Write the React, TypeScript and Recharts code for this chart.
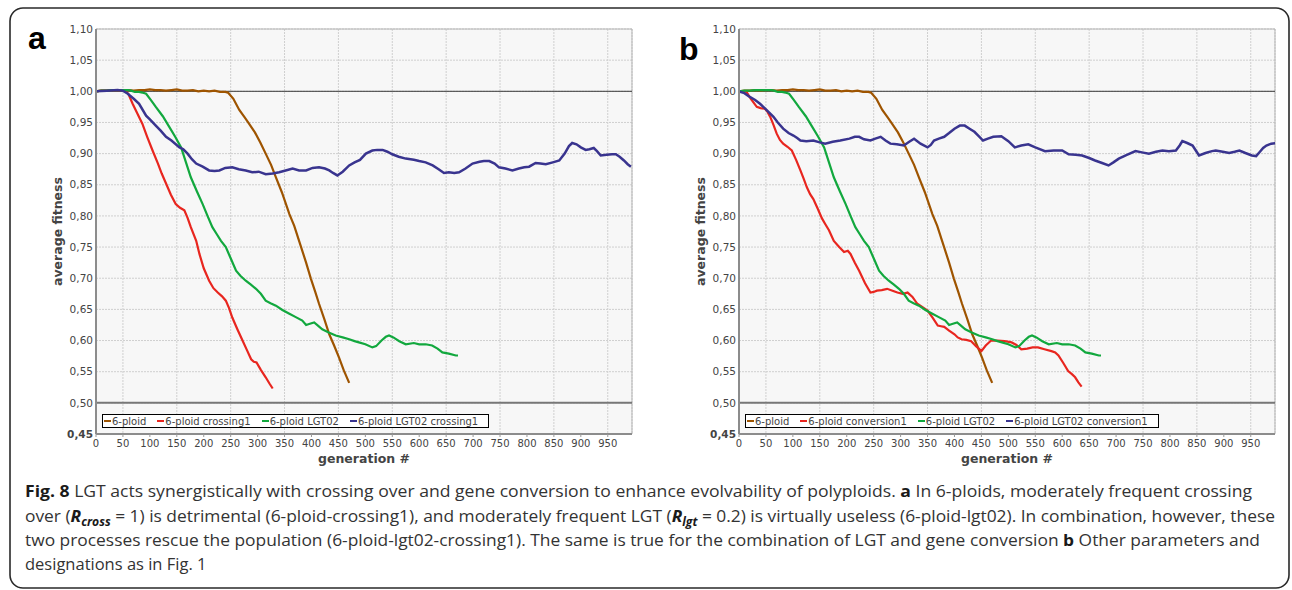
import React from 'react'
import {
	CartesianGrid,
	Legend,
	Line,
	LineChart,
	ReferenceArea,
	ReferenceLine,
	XAxis,
	YAxis,
} from 'recharts'

// generation -> average fitness
const ploid: [number, number][] = [
	[0, 1.0], [10, 1.001], [20, 1.001], [30, 1.002], [40, 1.001], [50, 1.002], [60, 1.002],
	[70, 1.001], [80, 1.002], [90, 1.002], [100, 1.003], [110, 1.002], [120, 1.002], [130, 1.001],
	[140, 1.002], [150, 1.003], [160, 1.001], [170, 1.001], [180, 1.002], [190, 1.0], [200, 1.001],
	[210, 1.0], [220, 1.001], [230, 0.999], [240, 0.999], [245, 0.998], [255, 0.988], [266, 0.97],
	[276, 0.958], [284, 0.948], [295, 0.934], [305, 0.918], [315, 0.9], [325, 0.882], [334, 0.862],
	[345, 0.838], [359, 0.803], [368, 0.784], [380, 0.752], [390, 0.725], [399, 0.699], [407, 0.678],
	[414, 0.659], [424, 0.634], [433, 0.61], [442, 0.592], [451, 0.573], [460, 0.552], [470, 0.532],
]

const crossing1: [number, number][] = [
	[0, 1.0], [10, 1.001], [20, 1.001], [30, 1.002], [40, 1.002], [50, 1.001], [55, 1.0],
	[60, 0.996], [68, 0.98], [77, 0.964], [86, 0.948], [95, 0.927], [105, 0.905], [115, 0.884],
	[122, 0.868], [130, 0.852], [139, 0.834], [148, 0.819], [156, 0.813], [164, 0.809], [170, 0.797],
	[176, 0.782], [186, 0.76], [192, 0.739], [200, 0.716], [210, 0.696], [218, 0.684], [226, 0.677],
	[234, 0.671], [241, 0.664], [247, 0.652], [253, 0.637], [262, 0.619], [272, 0.6], [280, 0.585],
	[288, 0.57], [293, 0.566], [298, 0.565], [306, 0.553], [315, 0.541], [322, 0.531], [328, 0.523],
]

const lgt02: [number, number][] = [
	[0, 1.0], [10, 1.001], [20, 1.001], [30, 1.002], [40, 1.002], [50, 1.002], [60, 1.002],
	[65, 1.001], [72, 0.999], [80, 0.999], [86, 0.998], [93, 0.996], [102, 0.986], [111, 0.975],
	[124, 0.96], [136, 0.943], [147, 0.927], [158, 0.91], [167, 0.886], [176, 0.862], [187, 0.84],
	[198, 0.819], [207, 0.8], [216, 0.782], [224, 0.771], [232, 0.76], [241, 0.75], [250, 0.732],
	[260, 0.712], [268, 0.704], [278, 0.696], [287, 0.69], [297, 0.683], [306, 0.675], [315, 0.664],
	[324, 0.66], [334, 0.656], [346, 0.649], [359, 0.643], [370, 0.638], [383, 0.632], [390, 0.625],
	[397, 0.627], [405, 0.629], [412, 0.624], [420, 0.618], [432, 0.613], [445, 0.608], [458, 0.605],
	[470, 0.602], [480, 0.599], [488, 0.597], [500, 0.594], [513, 0.589], [520, 0.591], [530, 0.6],
	[538, 0.606], [544, 0.608], [552, 0.605], [563, 0.599], [575, 0.594], [590, 0.596], [600, 0.594],
	[612, 0.594], [624, 0.592], [634, 0.587], [643, 0.581], [655, 0.579], [668, 0.576], [672, 0.576],
]

const lgt02Crossing1: [number, number][] = [
	[0, 1.0], [20, 1.001], [40, 1.002], [50, 1.001], [59, 0.996], [70, 0.988], [80, 0.98],
	[93, 0.961], [100, 0.955], [111, 0.945], [120, 0.937], [130, 0.927], [140, 0.921], [155, 0.91],
	[162, 0.907], [170, 0.9], [178, 0.891], [186, 0.884], [198, 0.879], [210, 0.873], [220, 0.872],
	[229, 0.873], [240, 0.877], [253, 0.878], [265, 0.875], [278, 0.873], [290, 0.87], [302, 0.871],
	[315, 0.867], [328, 0.868], [340, 0.87], [352, 0.873], [365, 0.876], [377, 0.873], [390, 0.873],
	[402, 0.877], [414, 0.878], [425, 0.876], [433, 0.873], [440, 0.869], [448, 0.865], [458, 0.871],
	[470, 0.881], [480, 0.886], [490, 0.89], [501, 0.9], [513, 0.905], [522, 0.906], [532, 0.906],
	[541, 0.903], [550, 0.899], [562, 0.895], [575, 0.892], [590, 0.89], [600, 0.888], [612, 0.886],
	[625, 0.881], [636, 0.875], [646, 0.869], [655, 0.87], [665, 0.869], [674, 0.87], [686, 0.876],
	[699, 0.884], [712, 0.887], [720, 0.888], [730, 0.888], [740, 0.884], [748, 0.878], [760, 0.876],
	[773, 0.873], [785, 0.876], [795, 0.878], [804, 0.879], [816, 0.885], [825, 0.884], [835, 0.883],
	[848, 0.886], [860, 0.889], [870, 0.9], [878, 0.912], [884, 0.917], [892, 0.915], [900, 0.91],
	[909, 0.906], [916, 0.907], [924, 0.909], [930, 0.904], [937, 0.897], [948, 0.898], [958, 0.899],
	[965, 0.899], [972, 0.895], [980, 0.889], [987, 0.883], [993, 0.879],
]

const conversion1: [number, number][] = [
	[0, 1.0], [8, 1.0], [14, 0.999], [22, 0.988], [33, 0.975], [40, 0.973], [48, 0.972],
	[53, 0.967], [58, 0.959], [64, 0.946], [70, 0.932], [76, 0.922], [82, 0.916], [90, 0.911],
	[98, 0.905], [106, 0.89], [114, 0.873], [120, 0.86], [126, 0.846], [132, 0.835], [138, 0.827],
	[146, 0.812], [154, 0.796], [160, 0.787], [167, 0.777], [176, 0.76], [186, 0.75], [195, 0.742],
	[202, 0.744], [207, 0.739], [215, 0.725], [223, 0.712], [234, 0.692], [244, 0.677], [250, 0.678],
	[256, 0.68], [265, 0.681], [275, 0.683], [285, 0.68], [294, 0.677], [304, 0.675], [313, 0.677],
	[322, 0.67], [331, 0.659], [340, 0.654], [350, 0.648], [360, 0.636], [369, 0.624], [375, 0.623],
	[381, 0.622], [390, 0.616], [400, 0.61], [406, 0.605], [413, 0.602], [422, 0.601], [431, 0.599],
	[440, 0.591], [450, 0.583], [458, 0.592], [468, 0.6], [480, 0.6], [493, 0.599], [506, 0.597],
	[515, 0.593], [524, 0.586], [535, 0.587], [545, 0.589], [555, 0.589], [567, 0.586], [580, 0.583],
	[587, 0.581], [593, 0.576], [602, 0.564], [611, 0.551], [618, 0.546], [624, 0.541], [630, 0.533],
	[636, 0.526],
]

const lgt02Conversion1: [number, number][] = [
	[0, 1.0], [10, 0.997], [20, 0.991], [30, 0.986], [39, 0.98], [50, 0.971], [64, 0.959],
	[72, 0.95], [82, 0.94], [92, 0.933], [101, 0.929], [108, 0.925], [114, 0.921], [125, 0.92],
	[138, 0.921], [150, 0.918], [160, 0.916], [174, 0.919], [188, 0.921], [205, 0.924], [215, 0.927],
	[223, 0.927], [232, 0.923], [244, 0.921], [253, 0.924], [263, 0.927], [272, 0.921], [281, 0.916],
	[293, 0.915], [306, 0.913], [316, 0.919], [325, 0.924], [337, 0.916], [350, 0.91], [356, 0.914],
	[362, 0.921], [371, 0.924], [381, 0.927], [390, 0.933], [400, 0.94], [410, 0.945], [419, 0.945],
	[428, 0.94], [437, 0.935], [445, 0.928], [453, 0.921], [462, 0.924], [472, 0.927], [487, 0.928],
	[500, 0.92], [512, 0.91], [524, 0.913], [537, 0.915], [550, 0.91], [568, 0.904], [584, 0.905],
	[600, 0.905], [612, 0.899], [625, 0.898], [637, 0.897], [650, 0.893], [661, 0.889], [674, 0.885],
	[686, 0.881], [695, 0.886], [705, 0.892], [720, 0.898], [736, 0.904], [748, 0.902], [761, 0.9],
	[774, 0.903], [786, 0.905], [798, 0.904], [811, 0.905], [818, 0.913], [823, 0.92], [832, 0.917],
	[842, 0.913], [848, 0.905], [854, 0.897], [866, 0.901], [878, 0.904], [885, 0.905], [898, 0.903],
	[910, 0.901], [920, 0.903], [929, 0.905], [940, 0.901], [952, 0.897], [960, 0.896], [967, 0.903],
	[973, 0.909], [979, 0.913], [988, 0.916], [997, 0.917],
]

const xTicks = [0, 50, 100, 150, 200, 250, 300, 350, 400, 450, 500, 550, 600, 650, 700, 750, 800, 850, 900, 950]
const yTicks = [0.45, 0.5, 0.55, 0.6, 0.65, 0.7, 0.75, 0.8, 0.85, 0.9, 0.95, 1.0, 1.05, 1.1]

const BROWN = '#9e5400'
const RED = '#e8261f'
const GREEN = '#12a83e'
const BLUE = '#39348f'

const toRows = (s: [number, number][]) => s.map(([g, v]) => ({ g, v }))

const fmt = (v: number) => v.toFixed(2).replace('.', ',')

const YTick = (props: any) => {
	const { x, y, payload } = props
	return (
		<text
			x={x}
			y={y}
			dy="0.35em"
			textAnchor="end"
			fontSize={10.5}
			fill="#444"
			fontFamily="DejaVu Sans"
			fontWeight={payload.value === 0.45 ? 'bold' : 'normal'}
		>
			{fmt(payload.value)}
		</text>
	)
}

interface ISeries {
	name: string
	color: string
	data: [number, number][]
}

const LegendBox = (props: any) => {
	const order: string[] = props.order || []
	const items = [...(props.payload || [])].sort(
		(a: any, b: any) => order.indexOf(a.value) - order.indexOf(b.value)
	)
	return (
		<div
			style={{
				display: 'flex',
				alignItems: 'center',
				border: '1.5px solid #000',
				background: '#fff',
				height: 12,
				padding: '0 10px 0 1px',
				fontFamily: 'DejaVu Sans',
				fontSize: 10,
				color: '#444',
				whiteSpace: 'nowrap',
			}}
		>
			{items.map((it: any, i: number) => (
				<span key={i} style={{ display: 'flex', alignItems: 'center', marginLeft: i === 0 ? 0 : 11 }}>
					<span style={{ display: 'inline-block', width: 7, height: 2.5, background: it.color, marginRight: 1 }} />
					{it.value}
				</span>
			))}
		</div>
	)
}

const Panel = ({ series }: { series: ISeries[] }) => (
	<LineChart width={640} height={470} margin={{ top: 29, right: 8, left: 36, bottom: 6 }}>
		<CartesianGrid fill="#f7f7f7" stroke="#cfcfcf" strokeDasharray="2 1" />
		<XAxis
			type="number"
			dataKey="g"
			domain={[0, 995]}
			ticks={xTicks}
			allowDataOverflow
			height={30}
			tickSize={3}
			tickMargin={3}
			tickLine={{ stroke: '#999' }}
			axisLine={{ stroke: '#8c8c8c', strokeWidth: 2 }}
			tick={{ fontSize: 10, fill: '#444', fontFamily: 'DejaVu Sans' }}
			label={{
				value: 'generation #',
				position: 'insideBottom',
				offset: 1.5,
				style: { fontWeight: 'bold', fontSize: 12.5, fill: '#444', fontFamily: 'DejaVu Sans' },
			}}
		/>
		<YAxis
			type="number"
			domain={[0.45, 1.1]}
			ticks={yTicks}
			allowDataOverflow
			width={60}
			tickSize={0}
			tickMargin={3}
			tickLine={false}
			axisLine={{ stroke: '#8c8c8c', strokeWidth: 2 }}
			tick={<YTick />}
			label={{
				value: 'average fitness',
				angle: -90,
				position: 'insideLeft',
				offset: 22,
				style: { textAnchor: 'middle', fontWeight: 'bold', fontSize: 12.5, fill: '#444', fontFamily: 'DejaVu Sans' },
			}}
		/>
		<ReferenceArea x1={0} x2={995} y1={0.45} y2={1.1} fill="none" stroke="#b5b5b5" strokeWidth={1} />
		<ReferenceLine y={1.0} stroke="#3a3a3a" strokeWidth={1} />
		<ReferenceLine y={0.5} stroke="#777" strokeWidth={2} />
		{series.map((s) => (
			<Line
				key={s.name}
				name={s.name}
				data={toRows(s.data)}
				dataKey="v"
				type="linear"
				stroke={s.color}
				strokeWidth={s.color === BLUE ? 2.5 : 2.2}
				dot={false}
				activeDot={false}
				isAnimationActive={false}
			/>
		))}
		<Legend
			layout="horizontal"
			verticalAlign="middle"
			align="center"
			content={<LegendBox order={series.map((s) => s.name)} />}
			wrapperStyle={{ left: 102, top: 414, width: 'auto', height: 'auto' }}
		/>
	</LineChart>
)

const seriesA: ISeries[] = [
	{ name: '6-ploid', color: BROWN, data: ploid },
	{ name: '6-ploid crossing1', color: RED, data: crossing1 },
	{ name: '6-ploid LGT02', color: GREEN, data: lgt02 },
	{ name: '6-ploid LGT02 crossing1', color: BLUE, data: lgt02Crossing1 },
]

const seriesB: ISeries[] = [
	{ name: '6-ploid', color: BROWN, data: ploid },
	{ name: '6-ploid conversion1', color: RED, data: conversion1 },
	{ name: '6-ploid LGT02', color: GREEN, data: lgt02 },
	{ name: '6-ploid LGT02 conversion1', color: BLUE, data: lgt02Conversion1 },
]

const capFont = { fontFamily: 'Open Sans', fontSize: 16.5, fill: '#333' }
const sub = { fontSize: 11.5, fontWeight: 'bold' as const, fontStyle: 'italic' as const }

const App = () => (
	<div style={{ position: 'absolute', left: 0, top: 0, width: 1292, height: 590, background: '#fff', overflow: 'hidden' }}>
		<svg width={1292} height={590} style={{ position: 'absolute', left: 0, top: 0 }}>
			<rect x={10} y={8} width={1279} height={580} rx={13} fill="none" stroke="#2a2a2a" strokeWidth={1.6} />
			<text x={28} y={48.5} fontFamily="Liberation Sans" fontWeight="bold" fontSize={32} fill="#000">
				a
			</text>
			<text x={679} y={60} fontFamily="Liberation Sans" fontWeight="bold" fontSize={32} fill="#000">
				b
			</text>
			<text x={25} y={497} textLength={1227} lengthAdjust="spacingAndGlyphs" {...capFont}>
				<tspan fontWeight="bold" fill="#1a1a1a">{'Fig. 8'}</tspan>
				{' LGT acts synergistically with crossing over and gene conversion to enhance evolvability of polyploids. '}
				<tspan fontWeight="bold" fill="#1a1a1a">{'a'}</tspan>
				{' In 6-ploids, moderately frequent crossing'}
			</text>
			<text x={25} y={521.5} textLength={1250} lengthAdjust="spacingAndGlyphs" {...capFont}>
				{'over ('}
				<tspan fontWeight="bold" fontStyle="italic" fill="#1a1a1a">{'R'}</tspan>
				<tspan {...sub} dy={4} fill="#1a1a1a">{'cross'}</tspan>
				<tspan dy={-4}>{' = 1) is detrimental (6-ploid-crossing1), and moderately frequent LGT ('}</tspan>
				<tspan fontWeight="bold" fontStyle="italic" fill="#1a1a1a">{'R'}</tspan>
				<tspan {...sub} dy={4} fill="#1a1a1a">{'lgt'}</tspan>
				<tspan dy={-4}>{' = 0.2) is virtually useless (6-ploid-lgt02). In combination, however, these'}</tspan>
			</text>
			<text x={25} y={546} textLength={1235} lengthAdjust="spacingAndGlyphs" {...capFont}>
				{'two processes rescue the population (6-ploid-lgt02-crossing1). The same is true for the combination of LGT and gene conversion '}
				<tspan fontWeight="bold" fill="#1a1a1a">{'b'}</tspan>
				{' Other parameters and'}
			</text>
			<text x={25} y={570} {...capFont}>
				{'designations as in Fig. 1'}
			</text>
		</svg>
		<div style={{ position: 'absolute', left: 0, top: 0 }}>
			<Panel series={seriesA} />
		</div>
		<div style={{ position: 'absolute', left: 643, top: 0 }}>
			<Panel series={seriesB} />
		</div>
	</div>
)

export default App
